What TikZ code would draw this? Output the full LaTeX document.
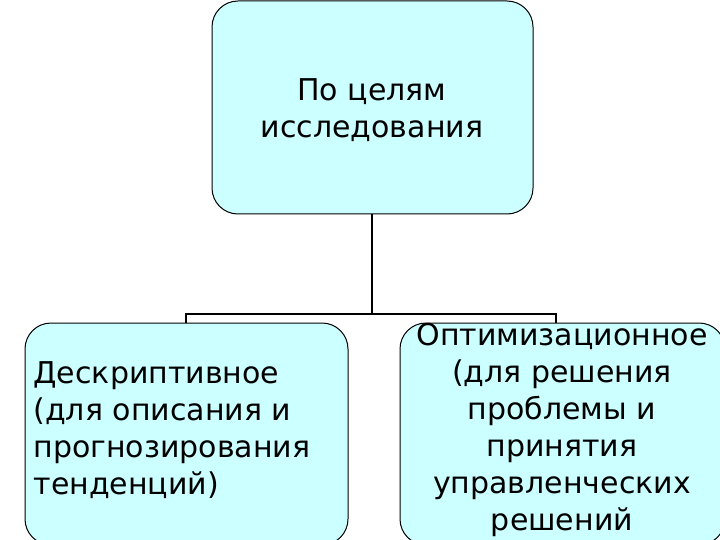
\documentclass[tikz,border=0pt]{standalone}
\usepackage{fontspec}
\setmainfont{DejaVu Sans}
\definecolor{boxfill}{HTML}{CCFFFF}
\begin{document}
\begin{tikzpicture}[x=1pt,y=-1pt,
  box/.style={draw=black,line width=1pt,fill=boxfill,rounded corners=26pt},
  txt/.style={font=\fontsize{30}{37}\selectfont,align=center},
  conn/.style={line width=1.6pt}]
\useasboundingbox (0,0) rectangle (720,540);
\draw[box] (212,1) rectangle (533,214);
\draw[box] (25,323) rectangle (348,545);
\draw[box] (400,323) rectangle (725,545);
\node[txt] (top) at (372,110) {По целям\\исследования};
\node[txt,align=left,anchor=west] (left) at (30,430) {Дескриптивное\\(для описания и\\прогнозирования\\тенденций)};
\node[txt] (right) at (562,430) {Оптимизационное\\(для решения\\проблемы и\\принятия\\управленческих\\решений};
\coordinate (tb) at (372,214);
\coordinate (j) at (372,314);
\coordinate (jl) at (186,314);
\coordinate (jr) at (556,314);
\coordinate (bl) at (186,323);
\coordinate (br) at (556,323);
\draw[conn] (tb) -- (j);
\draw[conn] (bl) -- (jl) -- (jr) -- (br);
\end{tikzpicture}
\end{document}
